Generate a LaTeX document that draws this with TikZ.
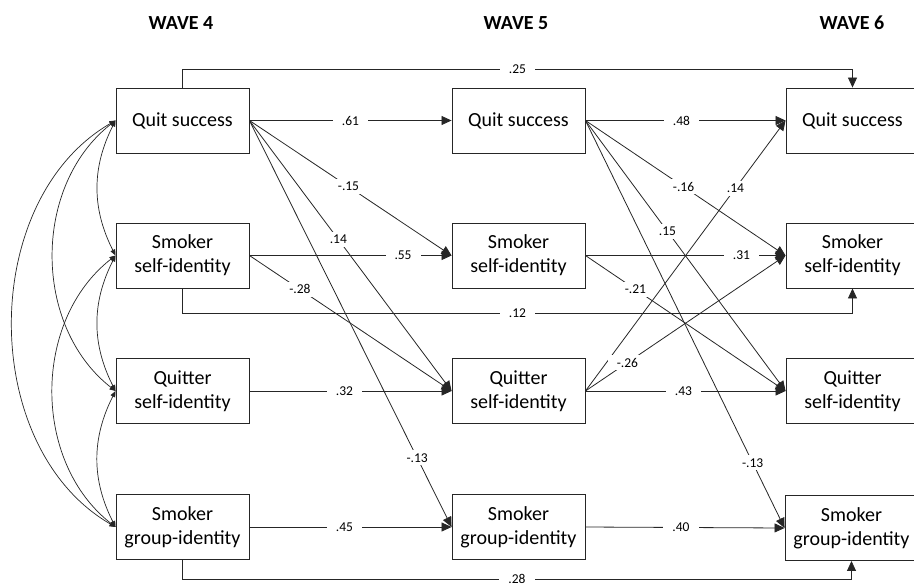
\documentclass[tikz,border=0pt]{standalone}
\usepackage{fontspec}
\setmainfont{Carlito}
\usetikzlibrary{arrows.meta}
\begin{document}
\begin{tikzpicture}[x=1pt,y=-1pt,
  box/.style={draw=black!85, line width=0.9pt, minimum width=133pt, minimum height=65pt, inner sep=0pt, align=center, font=\fontsize{20}{24}\selectfont},
  wave/.style={font=\bfseries\fontsize{20}{24}\selectfont, anchor=base},
  conn/.style={draw=black!85, line width=0.8pt, -{Triangle[length=10pt,width=9pt]}},
  cov/.style={draw=black!85, line width=0.7pt, {Triangle[length=6pt,width=5pt]}-{Triangle[length=6pt,width=5pt]}},
  lbl/.style={fill=white, inner xsep=9pt, inner ysep=3pt, font=\fontsize{13.5}{15}\selectfont},
]
\useasboundingbox (0,0) rectangle (914,587);

\node[wave] (w4) at (181,29) {WAVE 4};
\node[wave] (w5) at (516,29) {WAVE 5};
\node[wave] (w6) at (852,29) {WAVE 6};

\node[box] (q1) at (182.5,120.5) {Quit success};
\node[box] (s1) at (182.5,255.5) {Smoker\\self-identity};
\node[box] (t1) at (182.5,391) {Quitter\\self-identity};
\node[box] (g1) at (182.5,527) {Smoker\\group-identity};

\node[box] (q2) at (518.5,120.5) {Quit success};
\node[box] (s2) at (518.5,255.5) {Smoker\\self-identity};
\node[box] (t2) at (518.5,391) {Quitter\\self-identity};
\node[box] (g2) at (518.5,527) {Smoker\\group-identity};

\node[box] (q3) at (852.5,120.5) {Quit success};
\node[box] (s3) at (852.5,255.5) {Smoker\\self-identity};
\node[box] (t3) at (852.5,391) {Quitter\\self-identity};
\node[box] (g3) at (851.5,528) {Smoker\\group-identity};

% covariances
\draw[cov] (q1.west) to[bend right=27] (s1.west);
\draw[cov] (s1.west) to[bend right=27] (t1.west);
\draw[cov] (t1.west) to[bend right=27] (g1.west);
\draw[cov] (q1.west) to[bend right=52] (t1.west);
\draw[cov] (s1.west) to[bend right=52] (g1.west);
\draw[cov] (q1.west) to[bend right=60] (g1.west);

% wave 4 -> wave 5
\draw[conn] (q1.east) -- node[lbl,pos=0.5]{.61} (q2.west);
\draw[conn] (q1.east) -- node[lbl,pos=0.49]{-.15} (s2.west);
\draw[conn] (q1.east) -- node[lbl,pos=0.44]{.14} (t2.west);
\draw[conn] (q1.east) -- node[lbl,pos=0.83]{-.13} (g2.west);
\draw[conn] (s1.east) -- node[lbl,pos=0.76]{.55} (s2.west);
\draw[conn] (s1.east) -- node[lbl,pos=0.25]{-.28} (t2.west);
\draw[conn] (t1.east) -- node[lbl,pos=0.47]{.32} (t2.west);
\draw[conn] (g1.east) -- node[lbl,pos=0.47]{.45} (g2.west);

% wave 5 -> wave 6
\draw[conn] (q2.east) -- node[lbl,pos=0.48]{.48} (q3.west);
\draw[conn] (q2.east) -- node[lbl,pos=0.49]{-.16} (s3.west);
\draw[conn] (q2.east) -- node[lbl,pos=0.41]{.15} (t3.west);
\draw[conn] (q2.east) -- node[lbl,pos=0.84]{-.13} (g3.west);
\draw[conn] (s2.east) -- node[lbl,pos=0.78]{.31} (s3.west);
\draw[conn] (s2.east) -- node[lbl,pos=0.25]{-.21} (t3.west);
\draw[conn] (t2.east) -- node[lbl,pos=0.49]{.43} (t3.west);
\draw[conn] (t2.east) -- node[lbl,pos=0.75]{.14} (q3.west);
\draw[conn] (t2.east) -- node[lbl,pos=0.21]{-.26} (s3.west);
\draw[conn] (g2.east) -- node[lbl,pos=0.48]{.40} (g3.west);

% wave 4 -> wave 6
\coordinate (ytop) at (0,69);
\coordinate (ymid) at (0,313);
\coordinate (ybot) at (0,579);
\draw[conn] (q1.north) -- (q1.north |- ytop) -- node[lbl]{.25} (q3.north |- ytop) -- (q3.north);
\draw[conn] (s1.south) -- (s1.south |- ymid) -- node[lbl]{.12} (s3.south |- ymid) -- (s3.south);
\draw[conn] (g1.south) -- (g1.south |- ybot) -- node[lbl,inner ysep=1pt]{.28} (g3.south |- ybot) -- (g3.south);
\end{tikzpicture}
\end{document}
